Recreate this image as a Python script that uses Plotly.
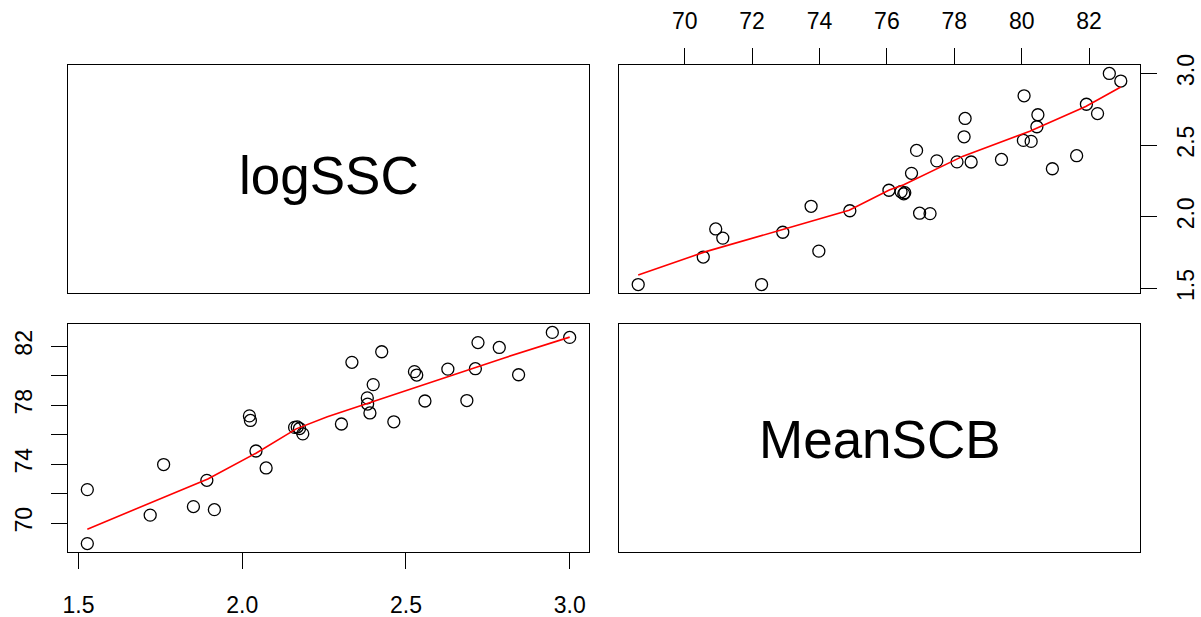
import plotly.graph_objects as go

# ---- data (logSSC vs MeanSCB) ----
logSSC = [1.527, 1.527, 1.719, 1.760, 1.851, 1.892, 1.915, 2.022, 2.025, 2.042,
          2.073, 2.160, 2.168, 2.175, 2.185, 2.303, 2.335, 2.382, 2.383, 2.390,
          2.400, 2.426, 2.463, 2.526, 2.533, 2.558, 2.628, 2.686, 2.712, 2.720,
          2.785, 2.844, 2.947, 3.000]
MeanSCB = [72.28, 68.62, 70.55, 73.98, 71.13, 72.91, 70.92, 77.28, 76.97, 74.90,
           73.75, 76.50, 76.53, 76.42, 76.06, 76.73, 80.91, 78.50, 78.08, 77.48,
           79.40, 81.63, 76.88, 80.28, 80.05, 78.29, 80.45, 78.32, 80.48, 82.25,
           81.92, 80.07, 82.94, 82.60]

# smoother (red) lines
smooth_bl_x = [1.527, 1.895, 2.042, 2.165, 2.26, 2.40, 2.63, 2.80, 3.000]
smooth_bl_y = [69.60, 73.00, 74.75, 76.40, 77.22, 78.24, 79.95, 81.21, 82.62]
smooth_tr_x = [68.62, 70.60, 72.91, 74.88, 76.07, 76.50, 78.26, 80.24, 81.90, 82.94]
smooth_tr_y = [1.593, 1.755, 1.911, 2.046, 2.186, 2.223, 2.423, 2.597, 2.770, 2.905]

var_names = ["logSSC", "MeanSCB"]
log_ticks = [1.5, 2.0, 2.5, 3.0]
log_ticktext = ["1.5", "2.0", "2.5", "3.0"]
scb_ticks = [70, 72, 74, 76, 78, 80, 82]
scb_ticktext_top = ["70", "72", "74", "76", "78", "80", "82"]
scb_ticktext_left = ["70", "", "74", "", "78", "", "82"]

log_range = [1.468, 3.059]
scb_range = [68.05, 83.51]

W, H = 1201, 617
FONT = "Liberation Sans, Arial, Helvetica, sans-serif"

def px_x(a, b):
    return [a / W, b / W]

def px_y(top, bottom):
    return [1 - bottom / H, 1 - top / H]

xl = px_x(68, 589)
xr = px_x(619, 1140)
yt = px_y(65, 293)
yb = px_y(324, 552)

fig = go.Figure()

circ = dict(symbol="circle-open", color="black", size=12, line=dict(width=1.3, color="black"))
red = dict(color="#FF0000", width=1.6)

# top-right: x=MeanSCB, y=logSSC
fig.add_trace(go.Scatter(x=MeanSCB, y=logSSC, mode="markers", marker=circ,
                         xaxis="x2", yaxis="y2", showlegend=False, hoverinfo="x+y"))
fig.add_trace(go.Scatter(x=smooth_tr_x, y=smooth_tr_y, mode="lines", line=red,
                         xaxis="x2", yaxis="y2", showlegend=False, hoverinfo="skip"))
# bottom-left: x=logSSC, y=MeanSCB
fig.add_trace(go.Scatter(x=logSSC, y=MeanSCB, mode="markers", marker=circ,
                         xaxis="x3", yaxis="y3", showlegend=False, hoverinfo="x+y"))
fig.add_trace(go.Scatter(x=smooth_bl_x, y=smooth_bl_y, mode="lines", line=red,
                         xaxis="x3", yaxis="y3", showlegend=False, hoverinfo="skip"))
# diagonal panels (empty, hold the axes)
fig.add_trace(go.Scatter(x=[0.5], y=[0.5], mode="markers", marker=dict(opacity=0),
                         xaxis="x", yaxis="y", showlegend=False, hoverinfo="skip"))
fig.add_trace(go.Scatter(x=[0.5], y=[0.5], mode="markers", marker=dict(opacity=0),
                         xaxis="x4", yaxis="y4", showlegend=False, hoverinfo="skip"))

box = dict(showline=True, mirror=True, linecolor="black", linewidth=1.3,
           showgrid=False, zeroline=False, automargin=False)
tickstyle = dict(ticks="outside", ticklen=16, tickwidth=1.3, tickcolor="black",
                 tickfont=dict(family=FONT, size=23, color="black"))
blank = dict(showticklabels=False, ticks="", range=[0, 1], fixedrange=True)

fig.update_layout(
    width=W, height=H,
    autosize=False,
    margin=dict(l=0, r=0, t=0, b=0, pad=0, autoexpand=False),
    paper_bgcolor="white", plot_bgcolor="white",
    showlegend=False,
    xaxis=dict(domain=xl, anchor="y", **box, **blank),
    yaxis=dict(domain=yt, anchor="x", **box, **blank),
    xaxis4=dict(domain=xr, anchor="y4", **box, **blank),
    yaxis4=dict(domain=yb, anchor="x4", **box, **blank),
    xaxis2=dict(domain=xr, anchor="y2", side="top", range=scb_range,
                tickmode="array", tickvals=scb_ticks, ticktext=scb_ticktext_top,
                ticklabelstandoff=10, **box, **tickstyle),
    yaxis2=dict(domain=yt, anchor="x2", side="right", range=log_range,
                tickmode="array", tickvals=log_ticks, ticktext=log_ticktext,
                tickangle=-90, ticklabelstandoff=9, **box, **tickstyle),
    xaxis3=dict(domain=xl, anchor="y3", side="bottom", range=log_range,
                tickmode="array", tickvals=log_ticks, ticktext=log_ticktext,
                ticklabelstandoff=16, **box, **tickstyle),
    yaxis3=dict(domain=yb, anchor="x3", side="left", range=scb_range,
                tickmode="array", tickvals=scb_ticks, ticktext=scb_ticktext_left,
                tickangle=-90, ticklabelstandoff=10, **box, **tickstyle),
)

fig.add_annotation(x=0.5, y=0.5, xref="x", yref="y", text=var_names[0], showarrow=False,
                   font=dict(family=FONT, size=53, color="black"), yshift=4)
fig.add_annotation(x=0.5, y=0.5, xref="x4", yref="y4", text=var_names[1], showarrow=False,
                   font=dict(family=FONT, size=53, color="black"), yshift=-2)

fig.write_html("out.html")
